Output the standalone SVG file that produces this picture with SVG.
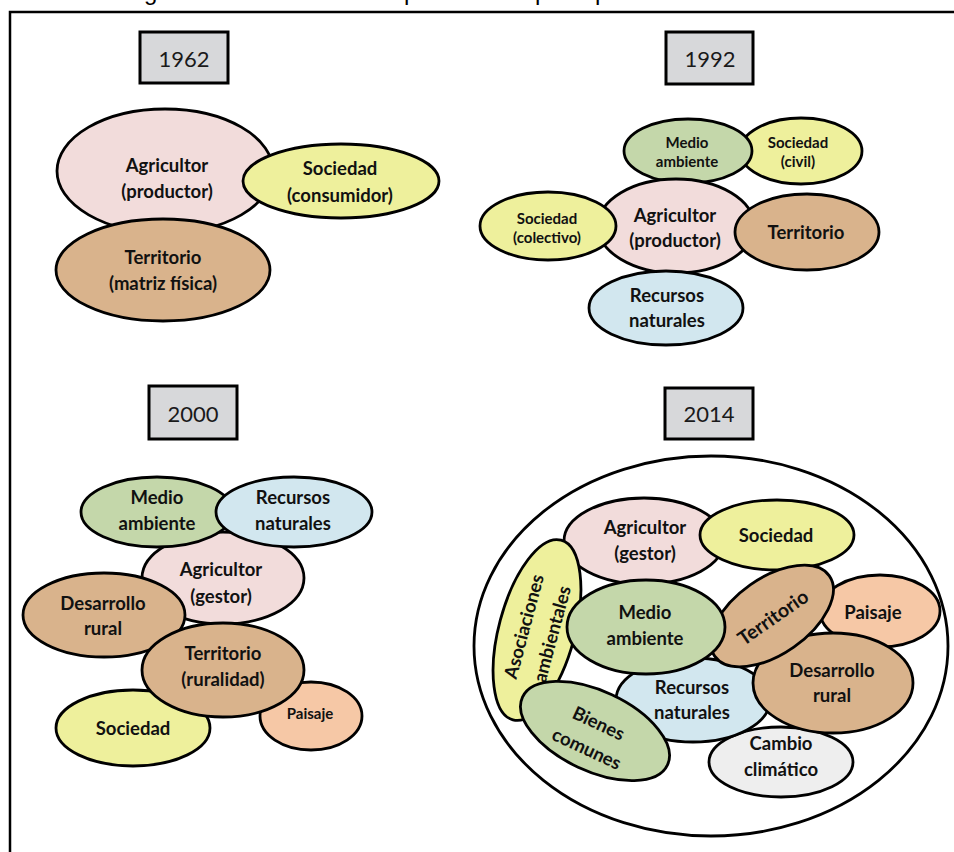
<svg xmlns="http://www.w3.org/2000/svg" width="954" height="852" viewBox="0 0 954 852">
  <style>
    .frame { fill: none; stroke: #000; stroke-width: 2.5; }
    .year rect { fill: #d7d8da; stroke: #000; stroke-width: 3; }
    .year text { font-family: Lato, "Liberation Sans", sans-serif; font-size: 22px; fill: #1a1a1a; text-anchor: middle; dominant-baseline: central; }
    .node ellipse { stroke: #000; stroke-width: 2.8; }
    .node text { font-family: Lato, "Liberation Sans", sans-serif; font-weight: bold; font-size: 18.5px; fill: #111; text-anchor: middle; dominant-baseline: central; }
    .node text.sm { font-size: 15px; }
    .pink ellipse { fill: #f2dcdb; }
    .yellow ellipse { fill: #eef09c; }
    .tan ellipse { fill: #d9b38c; }
    .green ellipse { fill: #c4d7aa; }
    .blue ellipse { fill: #d2e7ef; }
    .salmon ellipse { fill: #f6c8a6; }
    .grey ellipse { fill: #eeeeee; }
    .outer { fill: #fff; stroke: #000; stroke-width: 2.8; }
    .cut { font-family: "Liberation Sans", sans-serif; font-size: 24px; fill: #000; }
  </style>

  <rect width="954" height="852" fill="#fff"/>

  <!-- caption line above the frame, clipped by the top edge -->
  <g id="caption">
    <text class="cut" x="144" y="0">g</text>
    <text class="cut" x="404" y="0">p</text>
    <text class="cut" x="535" y="0">p</text>
    <text class="cut" x="595" y="0">p</text>
  </g>

  <path class="frame" d="M10,852 V12 H956"/>

  <g id="connectors"/>

  <!-- ===== 1962 ===== -->
  <g id="year-1962" class="year">
    <rect x="140" y="32" width="88" height="51"/>
    <text x="184" y="58">1962</text>
  </g>
  <g id="n1962-agricultor" class="node pink">
    <ellipse cx="165" cy="171" rx="108" ry="62"/>
    <text x="167" y="165">Agricultor</text>
    <text x="167" y="191">(productor)</text>
  </g>
  <g id="n1962-sociedad" class="node yellow">
    <ellipse cx="341" cy="181" rx="98" ry="37"/>
    <text x="340" y="168">Sociedad</text>
    <text x="340" y="195">(consumidor)</text>
  </g>
  <g id="n1962-territorio" class="node tan">
    <ellipse cx="163" cy="270" rx="107" ry="51"/>
    <text x="163" y="257">Territorio</text>
    <text x="163" y="283">(matriz física)</text>
  </g>

  <!-- ===== 1992 ===== -->
  <g id="year-1992" class="year">
    <rect x="666" y="32" width="87" height="52"/>
    <text x="710" y="58">1992</text>
  </g>
  <g id="n1992-sociedad-civil" class="node yellow">
    <ellipse cx="801" cy="151" rx="61" ry="33"/>
    <text class="sm" x="798" y="142">Sociedad</text>
    <text class="sm" x="798" y="161">(civil)</text>
  </g>
  <g id="n1992-medio" class="node green">
    <ellipse cx="688" cy="151" rx="64" ry="32"/>
    <text class="sm" x="687" y="142">Medio</text>
    <text class="sm" x="687" y="161">ambiente</text>
  </g>
  <g id="n1992-agricultor" class="node pink">
    <ellipse cx="676" cy="226" rx="78" ry="47"/>
    <text x="675" y="215">Agricultor</text>
    <text x="675" y="240">(productor)</text>
  </g>
  <g id="n1992-sociedad-colectivo" class="node yellow">
    <ellipse cx="548" cy="226" rx="68" ry="34"/>
    <text class="sm" x="547" y="218">Sociedad</text>
    <text class="sm" x="547" y="237">(colectivo)</text>
  </g>
  <g id="n1992-territorio" class="node tan">
    <ellipse cx="807" cy="232" rx="72" ry="38"/>
    <text x="806" y="232">Territorio</text>
  </g>
  <g id="n1992-recursos" class="node blue">
    <ellipse cx="666" cy="308" rx="77" ry="37"/>
    <text x="667" y="295">Recursos</text>
    <text x="667" y="320">naturales</text>
  </g>

  <!-- ===== 2000 ===== -->
  <g id="year-2000" class="year">
    <rect x="149" y="386" width="88" height="53"/>
    <text x="193" y="413">2000</text>
  </g>
  <g id="n2000-agricultor" class="node pink">
    <ellipse cx="223" cy="578" rx="81" ry="46"/>
    <text x="221" y="569">Agricultor</text>
    <text x="221" y="596">(gestor)</text>
  </g>
  <g id="n2000-medio" class="node green">
    <ellipse cx="157" cy="512" rx="76" ry="35"/>
    <text x="157" y="497">Medio</text>
    <text x="157" y="523">ambiente</text>
  </g>
  <g id="n2000-recursos" class="node blue">
    <ellipse cx="294" cy="512" rx="78" ry="35"/>
    <text x="293" y="497">Recursos</text>
    <text x="293" y="523">naturales</text>
  </g>
  <g id="n2000-desarrollo" class="node tan">
    <ellipse cx="104" cy="615" rx="81" ry="42"/>
    <text x="103" y="603">Desarrollo</text>
    <text x="103" y="628">rural</text>
  </g>
  <g id="n2000-sociedad" class="node yellow">
    <ellipse cx="133" cy="728" rx="77" ry="38"/>
    <text x="133" y="728">Sociedad</text>
  </g>
  <g id="n2000-paisaje" class="node salmon">
    <ellipse cx="311" cy="716" rx="51" ry="34"/>
    <text class="sm" x="310" y="713">Paisaje</text>
  </g>
  <g id="n2000-territorio" class="node tan">
    <ellipse cx="223" cy="670" rx="81" ry="47"/>
    <text x="223" y="653">Territorio</text>
    <text x="223" y="679">(ruralidad)</text>
  </g>

  <!-- ===== 2014 ===== -->
  <g id="year-2014" class="year">
    <rect x="665" y="388" width="88" height="51"/>
    <text x="709" y="413">2014</text>
  </g>
  <ellipse id="n2014-outer" class="outer" cx="711" cy="646" rx="237" ry="190"/>
  <g id="n2014-agricultor" class="node pink">
    <ellipse cx="644" cy="541" rx="80" ry="43"/>
    <text x="645" y="527">Agricultor</text>
    <text x="645" y="553">(gestor)</text>
  </g>
  <g id="n2014-sociedad" class="node yellow">
    <ellipse cx="777" cy="535" rx="77" ry="35"/>
    <text x="776" y="535">Sociedad</text>
  </g>
  <g id="n2014-asociaciones" class="node yellow" transform="translate(537,630) rotate(-75)">
    <ellipse cx="0" cy="0" rx="93" ry="38"/>
    <text x="0" y="-14">Asociaciones</text>
    <text x="0" y="15">ambientales</text>
  </g>
  <g id="n2014-paisaje" class="node salmon">
    <ellipse cx="880" cy="611" rx="60" ry="36"/>
    <text x="873" y="612">Paisaje</text>
  </g>
  <g id="n2014-cambio" class="node grey">
    <ellipse cx="781" cy="762" rx="72" ry="35"/>
    <text x="781" y="743">Cambio</text>
    <text x="781" y="769">climático</text>
  </g>
  <g id="n2014-recursos" class="node blue">
    <ellipse cx="693" cy="700" rx="77" ry="42"/>
    <text x="692" y="687">Recursos</text>
    <text x="692" y="712">naturales</text>
  </g>
  <g id="n2014-desarrollo" class="node tan">
    <ellipse cx="833" cy="683" rx="80" ry="50"/>
    <text x="832" y="670">Desarrollo</text>
    <text x="832" y="695">rural</text>
  </g>
  <g id="n2014-territorio" class="node tan" transform="translate(772,616) rotate(-35)">
    <ellipse cx="0" cy="0" rx="70" ry="38"/>
    <text x="0" y="1" style="font-size:19.5px">Territorio</text>
  </g>
  <g id="n2014-medio" class="node green">
    <ellipse cx="646" cy="627" rx="79" ry="47"/>
    <text x="645" y="612">Medio</text>
    <text x="645" y="638">ambiente</text>
  </g>
  <g id="n2014-bienes" class="node green" transform="translate(595,731) rotate(25)">
    <ellipse cx="0" cy="0" rx="80" ry="40"/>
    <text x="0" y="-9">Bienes</text>
    <text x="0" y="19">comunes</text>
  </g>
</svg>
